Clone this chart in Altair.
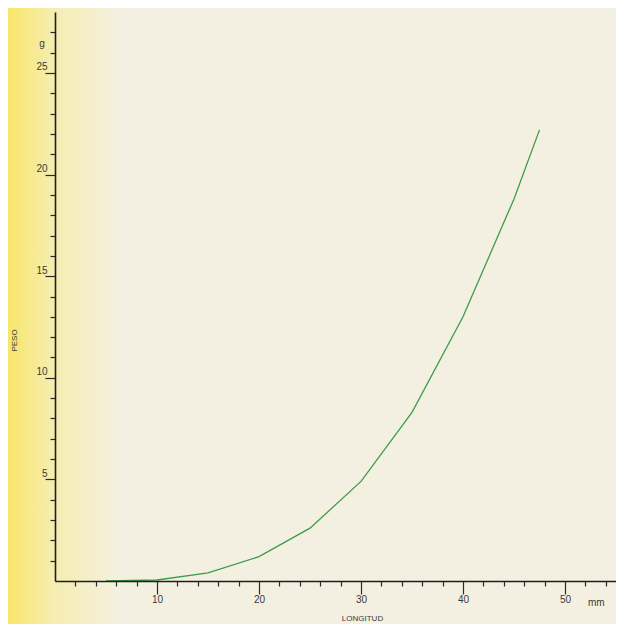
import altair as alt
import pandas as pd

# Data
longitud = [5, 10, 15, 20, 25, 30, 35, 40, 45, 47.5]
peso = [0.0, 0.05, 0.4, 1.2, 2.6, 4.9, 8.3, 13.0, 18.8, 22.2]

x_ticks = list(range(2, 56, 2))
y_ticks = list(range(1, 28, 1))

df = pd.DataFrame({"longitud": longitud, "peso": peso})

W, H = 561, 569
FONT = "Liberation Sans"
TXT = "#3a3a38"

xscale = alt.Scale(domain=[0, 55], nice=False, zero=False)
yscale = alt.Scale(domain=[0, 28], nice=False, zero=False)

bg = alt.Chart(pd.DataFrame({"a": [0]})).mark_rect(
    clip=False,
    color=alt.LinearGradient(
        gradient="linear", x1=0, x2=1, y1=0, y2=0,
        stops=[alt.GradientStop(offset=0, color="#f8e66a"),
               alt.GradientStop(offset=0.4, color="#f6edb0"),
               alt.GradientStop(offset=1, color="#f3f0e1")],
    ),
).encode(x=alt.value(-47), x2=alt.value(65), y=alt.value(-4), y2=alt.value(H + 43))

line = alt.Chart(df).mark_line(color="#3d9c4a", strokeWidth=1.3).encode(
    x=alt.X("longitud:Q", scale=xscale,
            axis=alt.Axis(
                values=x_ticks, title="LONGITUD",
                labelExpr="datum.value % 10 === 0 ? datum.label : ''",
                tickSize={"condition": {"test": "datum.value % 10 === 0", "value": 13}, "value": 5},
                tickColor="#2a2a2a", tickWidth=1.2,
                domainColor="#1e1e1e", domainWidth=1.6,
                labelFont=FONT, labelFontSize=10, labelColor=TXT, labelPadding=0,
                labelFlush=False, labelOverlap=False,
                titleFont=FONT, titleFontSize=8, titleFontWeight="normal", titleColor=TXT,
                titleX=307, titleY=41, titleBaseline="bottom", titleAnchor="start", titleAlign="center",
                grid=False, zindex=2)),
    y=alt.Y("peso:Q", scale=yscale,
            axis=alt.Axis(
                values=y_ticks, title="PESO",
                labelExpr="datum.value % 5 === 0 ? datum.label : ''",
                tickSize={"condition": {"test": "datum.value % 5 === 0", "value": 10}, "value": 5},
                tickColor="#2a2a2a", tickWidth=1.2,
                domainColor="#1e1e1e", domainWidth=1.6,
                labelFont=FONT, labelFontSize=10, labelColor=TXT, labelPadding=-2,
                labelBaseline="bottom", labelOffset=-1, labelFlush=False, labelOverlap=False,
                titleFont=FONT, titleFontSize=8, titleFontWeight="normal", titleColor=TXT,
                titleX=-37, titleY=328, titleAlign="center", titleAngle=-90, titleBaseline="bottom",
                grid=False, zindex=2)),
)

g_lbl = alt.Chart(pd.DataFrame({"t": ["g"]})).mark_text(
    font=FONT, fontSize=10, color=TXT, clip=False
).encode(x=alt.value(-13), y=alt.value(32), text="t:N")

mm_lbl = alt.Chart(pd.DataFrame({"t": ["mm"]})).mark_text(
    font=FONT, fontSize=10, color=TXT, clip=False, align="left"
).encode(x=alt.value(533), y=alt.value(H + 22), text="t:N")

chart = alt.layer(bg, line, g_lbl, mm_lbl).properties(
    width=W, height=H,
    autosize=alt.AutoSizeParams(type="none"),
    padding={"left": 47, "top": 4, "right": 0, "bottom": 43},
).configure(background="#f3f0e1").configure_view(stroke=None)

chart.save("out.html", embed_options={"renderer": "svg", "actions": False})
